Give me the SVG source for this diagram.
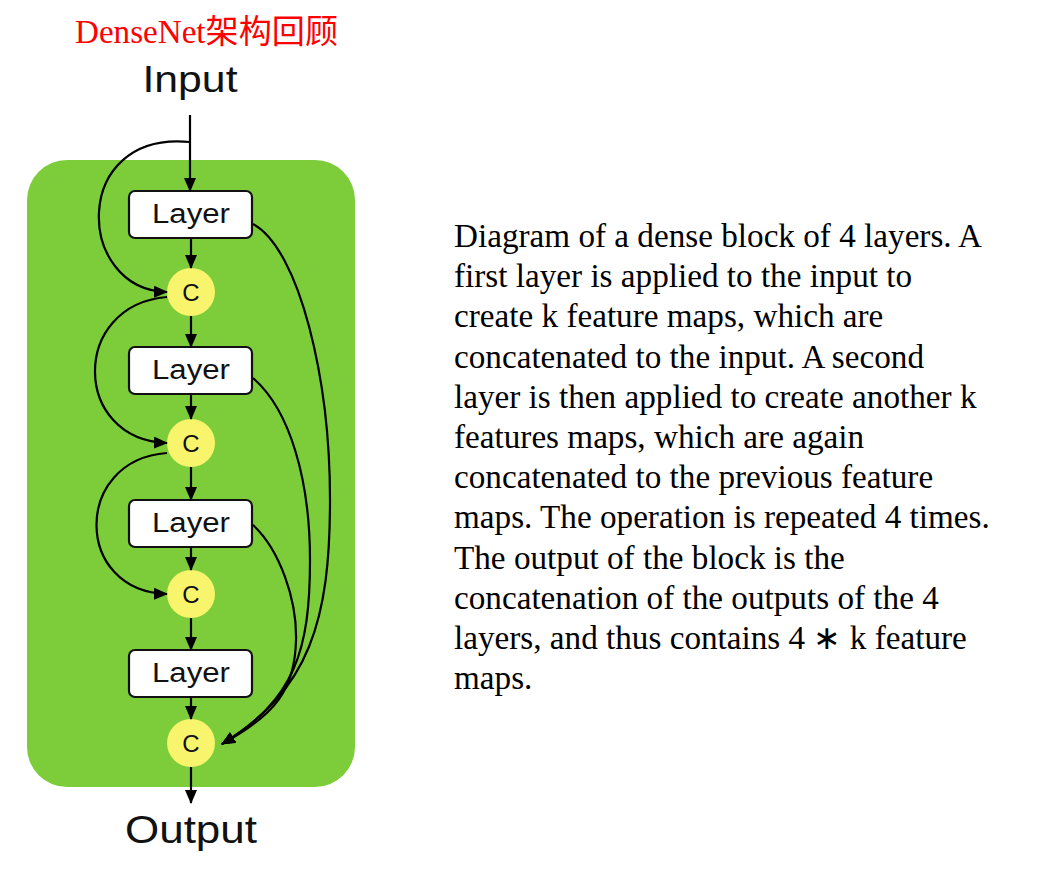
<svg xmlns="http://www.w3.org/2000/svg" width="1054" height="874" viewBox="0 0 1054 874">
<defs>
<marker id="arr" markerUnits="userSpaceOnUse" markerWidth="14" markerHeight="12" refX="13" refY="6" orient="auto">
<path d="M0,0 L14,6 L0,12 Z" fill="#000"/>
</marker>
<style>
.sans{font-family:"Liberation Sans",Arial,sans-serif;fill:#111;}
.layer rect{fill:#fff;stroke:#111;stroke-width:2.2;}
.cnode circle{fill:#f8f46c;}
.conn path,.conn line{fill:none;stroke:#000;stroke-width:2.2;}
.desc{font-family:"Liberation Serif","Times New Roman",serif;font-size:33.2px;fill:#000;}
</style>
</defs>
<rect width="1054" height="874" fill="#fff"/>
<text x="75" y="43" font-family="'Liberation Serif','Noto Sans CJK SC',serif" font-size="33" fill="#ff0000" textLength="263" lengthAdjust="spacingAndGlyphs">DenseNet架构回顾</text>
<g id="block"><rect x="27" y="160" width="328" height="627" rx="40" fill="#7dcd3b"/></g>
<g id="input"><text class="sans" x="190" y="92" font-size="37" text-anchor="middle" textLength="95" lengthAdjust="spacingAndGlyphs">Input</text></g>
<g id="output"><text class="sans" x="191" y="843" font-size="38" text-anchor="middle" textLength="132" lengthAdjust="spacingAndGlyphs">Output</text></g>
<g id="layer1" class="layer"><rect x="129" y="191" width="123" height="47" rx="6"/><text class="sans" x="191" y="223" font-size="27" text-anchor="middle" textLength="78" lengthAdjust="spacingAndGlyphs">Layer</text></g>
<g id="layer2" class="layer"><rect x="129" y="347" width="123" height="47" rx="6"/><text class="sans" x="191" y="379" font-size="27" text-anchor="middle" textLength="78" lengthAdjust="spacingAndGlyphs">Layer</text></g>
<g id="layer3" class="layer"><rect x="129" y="500" width="123" height="47" rx="6"/><text class="sans" x="191" y="532" font-size="27" text-anchor="middle" textLength="78" lengthAdjust="spacingAndGlyphs">Layer</text></g>
<g id="layer4" class="layer"><rect x="129" y="650" width="123" height="47" rx="6"/><text class="sans" x="191" y="682" font-size="27" text-anchor="middle" textLength="78" lengthAdjust="spacingAndGlyphs">Layer</text></g>
<g id="c1" class="cnode"><circle cx="191" cy="292" r="24"/><text class="sans" x="191" y="300.5" font-size="24" text-anchor="middle">C</text></g>
<g id="c2" class="cnode"><circle cx="191" cy="443" r="24"/><text class="sans" x="191" y="451.5" font-size="24" text-anchor="middle">C</text></g>
<g id="c3" class="cnode"><circle cx="191" cy="594" r="24"/><text class="sans" x="191" y="602.5" font-size="24" text-anchor="middle">C</text></g>
<g id="c4" class="cnode"><circle cx="191" cy="743" r="24"/><text class="sans" x="191" y="751.5" font-size="24" text-anchor="middle">C</text></g>
<g id="connectors" class="conn">
<line x1="190" y1="115" x2="190" y2="191" marker-end="url(#arr)"/>
<line x1="191" y1="238" x2="191" y2="268" marker-end="url(#arr)"/>
<line x1="191" y1="316" x2="191" y2="347" marker-end="url(#arr)"/>
<line x1="191" y1="394" x2="191" y2="419" marker-end="url(#arr)"/>
<line x1="191" y1="467" x2="191" y2="500" marker-end="url(#arr)"/>
<line x1="191" y1="547" x2="191" y2="570" marker-end="url(#arr)"/>
<line x1="191" y1="618" x2="191" y2="650" marker-end="url(#arr)"/>
<line x1="191" y1="697" x2="191" y2="719" marker-end="url(#arr)"/>
<line x1="191" y1="767" x2="191" y2="803" marker-end="url(#arr)"/>
<path d="M190,142 C70,130 75,290 167,292" marker-end="url(#arr)"/>
<path d="M167,297 C70,305 72,440 167,443" marker-end="url(#arr)"/>
<path d="M167,453 C72,460 74,592 167,594" marker-end="url(#arr)"/>
<path d="M253,224 C300,250 330,380 330,500 C330,620 310,690 222,744" marker-end="url(#arr)"/>
<path d="M253,378 C290,410 310,480 310,560 C310,650 295,700 222,744" marker-end="url(#arr)"/>
<path d="M253,525 C280,550 297,600 296,640 C295,690 275,715 222,744" marker-end="url(#arr)"/>
</g>
<g id="description" class="desc">
<text x="454" y="247">Diagram of a dense block of 4 layers. A</text>
<text x="454" y="287.2">first layer is applied to the input to</text>
<text x="454" y="327.4">create k feature maps, which are</text>
<text x="454" y="367.6">concatenated to the input. A second</text>
<text x="454" y="407.8">layer is then applied to create another k</text>
<text x="454" y="448">features maps, which are again</text>
<text x="454" y="488.2">concatenated to the previous feature</text>
<text x="454" y="528.4">maps. The operation is repeated 4 times.</text>
<text x="454" y="568.6">The output of the block is the</text>
<text x="454" y="608.8">concatenation of the outputs of the 4</text>
<text x="454" y="649">layers, and thus contains 4 ∗ k feature</text>
<text x="454" y="689.2">maps.</text>
</g>
</svg>
